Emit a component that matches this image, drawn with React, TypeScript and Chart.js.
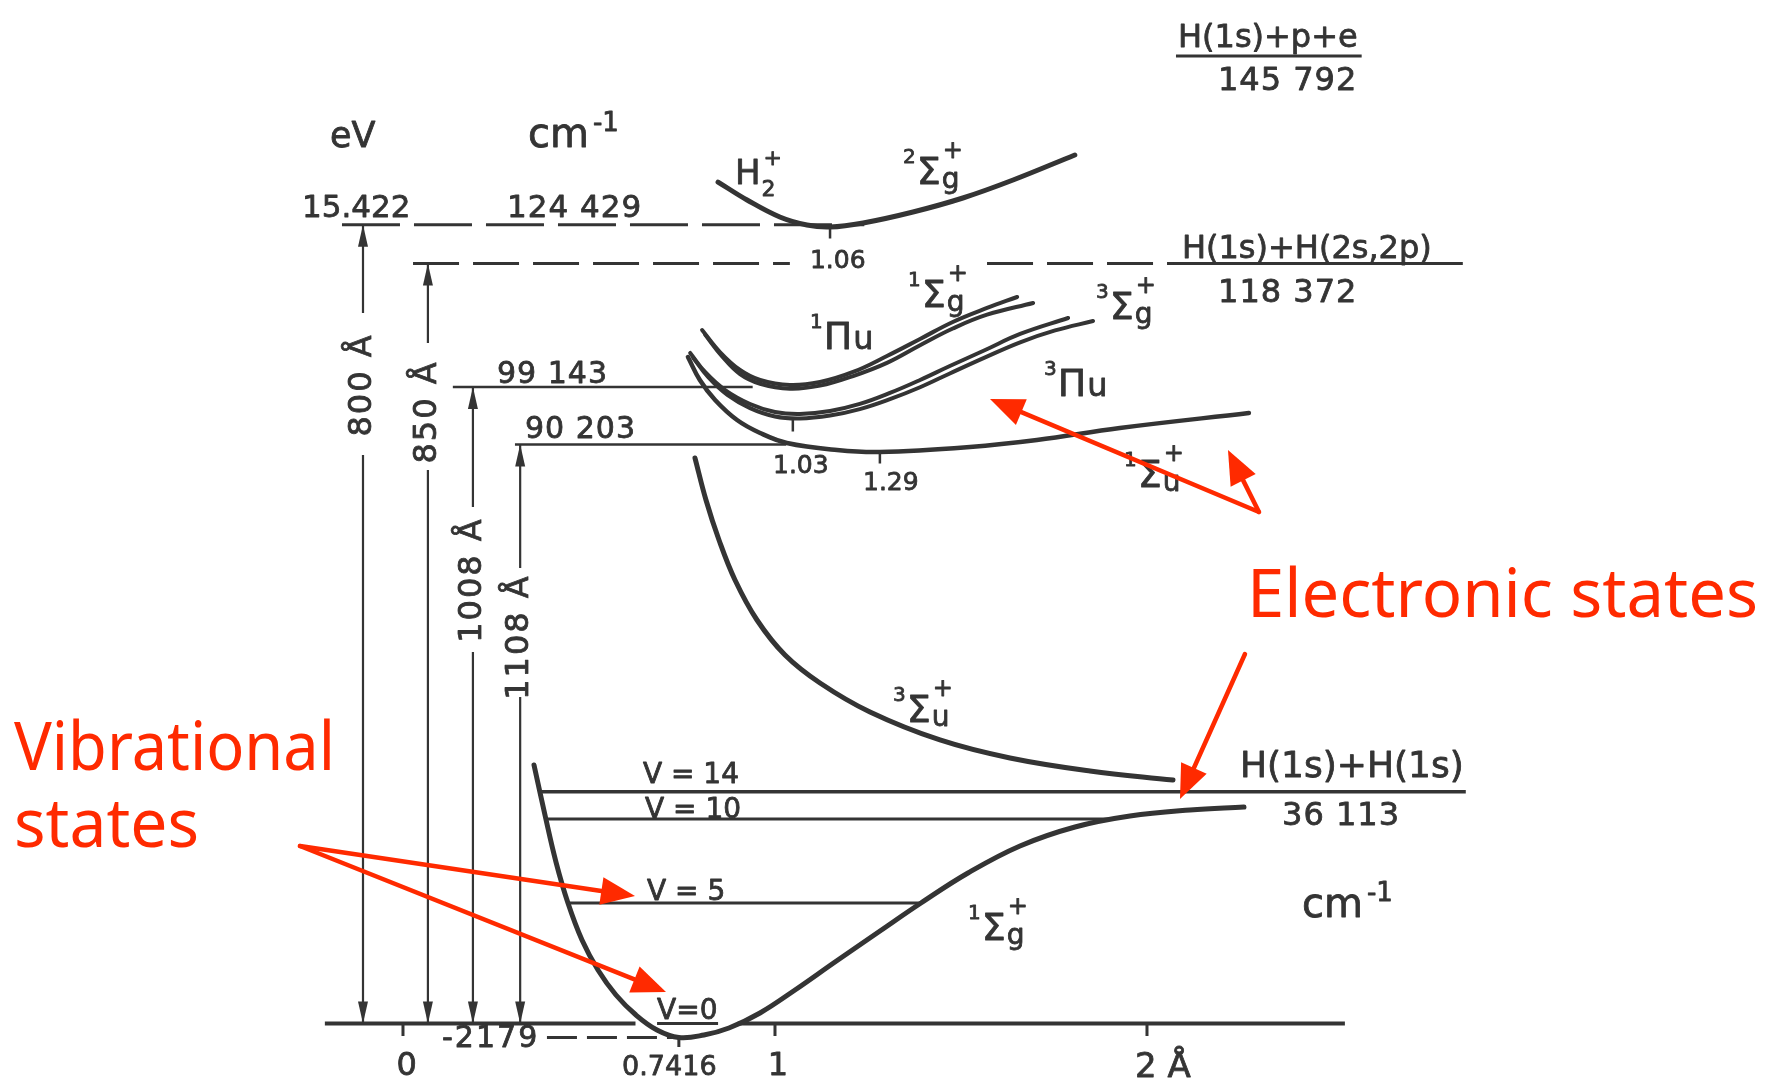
import React, { useEffect, useRef } from 'react';
import { Chart, registerables } from 'chart.js';

Chart.register(...registerables);

// ---------------- data (R in Å, E in cm^-1 above v = 0 of the ground state) ----------------
const X_R = [0.3522, 0.3817, 0.4113, 0.4435, 0.4812, 0.5242, 0.5726, 0.6263, 0.6828, 0.7416, 0.8091, 0.8763, 0.9597, 1.0538, 1.1613, 1.2823, 1.3925, 1.5188, 1.6586, 1.8065, 1.9543, 2.1156, 2.2608];
const X_E = [40260, 32480, 25150, 18770, 13010, 8330, 4440, 1320, -1010, -2179, -1790, -700, 1640, 5220, 9580, 14410, 18770, 23440, 27650, 30610, 32320, 33260, 33720];

const B3SU_R = [0.785, 0.8145, 0.8495, 0.8925, 0.9516, 1.0269, 1.121, 1.2554, 1.4435, 1.6317, 1.8468, 2.0699];
const B3SU_E = [88080, 81540, 75310, 69080, 62850, 57400, 53040, 48520, 44160, 41350, 39330, 37930];

const H2P_R = [0.847, 0.925, 1.013, 1.086, 1.148, 1.237, 1.371, 1.505, 1.640, 1.806];
const H2P_E = [131070, 128270, 125620, 124370, 124060, 124690, 126400, 128580, 131380, 135280];

const B1SU_R = [0.766, 0.798, 0.839, 0.898, 0.960, 1.032, 1.167, 1.282, 1.524, 1.704, 1.927, 2.274];
const B1SU_E = [103810, 100230, 97120, 94000, 91980, 90420, 89330, 89020, 89800, 90890, 92760, 95090];

const C1PU_R = [0.804, 0.852, 0.906, 0.960, 1.040, 1.121, 1.210, 1.301, 1.390, 1.478, 1.570, 1.651];
const C1PU_E = [108020, 104590, 101790, 100230, 99450, 99920, 101480, 103970, 106620, 109270, 111450, 113160];

const EF1SG_R = [0.812, 0.858, 0.906, 0.960, 1.040, 1.121, 1.210, 1.301, 1.390, 1.478, 1.570, 1.694];
const EF1SG_E = [107300, 103900, 101150, 99650, 98880, 99350, 100850, 102900, 105650, 108250, 110400, 112230];

const C3PU_R = [0.772, 0.812, 0.866, 0.933, 1.000, 1.067, 1.148, 1.228, 1.309, 1.390, 1.470, 1.565, 1.659, 1.788];
const C3PU_E = [104440, 101480, 98670, 96500, 95250, 94940, 95400, 96500, 98210, 100230, 102410, 104900, 107400, 109890];

const A3SG_R = [0.780, 0.820, 0.872, 0.933, 1.000, 1.067, 1.148, 1.228, 1.309, 1.390, 1.470, 1.565, 1.659, 1.753, 1.855];
const A3SG_E = [103700, 100700, 97900, 95850, 94550, 94240, 94700, 95700, 97250, 99100, 101250, 103750, 106100, 107950, 109420];

const LEVEL_E = [124429, 118372, 99143, 90203, 36113];
const LEVEL_TEXT = ['124 429', '118 372', '99 143', '90 203', '36 113'];
const EV_TEXT = '15.422';
const MIN_E = -2179;

const VIB_TEXT = ['V = 14', 'V = 10', 'V = 5', 'V=0'];
const VIB_E = [36113, 31850, 18770, 0];
const VIB_R0 = [0.366, 0.385, 0.443, 0.683];
const VIB_R1 = [2.857, 1.906, 1.392, 0.847];

const WAVE_TEXT = ['800 Å', '850 Å', '1008 Å', '1108 Å'];
const WAVE_R = [-0.1075, 0.067, 0.188, 0.315];
const WAVE_TOP = [124429, 118372, 99143, 90203];
const WAVE_GAP_HI = [110670, 105990, 80450, 70950];
const WAVE_GAP_LO = [88550, 86210, 57870, 50860];
const WAVE_LABEL_E = [99450, 95250, 69080, 60200];

const AXIS_TICKS = [0, 0.7416, 1, 2];
const AXIS_TICK_TEXT = ['0', '0.7416', '1', '2 Å'];

const RE_R = [1.148, 1.048, 1.282];
const RE_TEXT = ['1.06', '1.03', '1.29'];
const RE_TOP = [124060, 94000, 89020];

// ---------------- view ----------------
const R_MIN = -1.0833, R_MAX = 3.6882;
const E_MIN = -9112, E_MAX = 159420;

const INK = '#343434';
const RED = '#ff2a00';
const SANS = '"DejaVu Sans", "Liberation Sans", sans-serif';
const HAND = '"Noto Sans", "DejaVu Sans", sans-serif';

const pts = (rs: number[], es: number[]) => rs.map((r, i) => ({ x: r, y: es[i] }));
const hseg = (r0: number, r1: number, e: number) => [{ x: r0, y: e }, { x: r1, y: e }];
const vseg = (r: number, e0: number, e1: number) => [{ x: r, y: e0 }, { x: r, y: e1 }];
const GAP = (r: number) => ({ x: r, y: null as any });

const line = (data: any[], width: number, extra: any = {}) => ({
  data, showLine: true, borderColor: INK, backgroundColor: INK, borderWidth: width,
  pointRadius: 0, pointHoverRadius: 0, fill: false, tension: 0, spanGaps: false, ...extra,
});
const curve = (data: any[], width: number) => line(data, width, { tension: 0.4, borderCapStyle: 'round', borderJoinStyle: 'round' });

function buildDatasets() {
  const ds: any[] = [];
  // baseline (energy zero), broken where the potential dips below it
  ds.push(line([...hseg(-0.21, 0.625, 0), GAP(0.7), ...hseg(0.9, 2.532, 0)], 4));
  // vibrational levels
  VIB_E.forEach((e, i) => ds.push(line(hseg(VIB_R0[i], VIB_R1[i], e), i === 0 ? 3.5 : 3)));
  // ionisation limit (dashed)
  ds.push(line(hseg(-0.164, 1.24, LEVEL_E[0]), 3, { borderDash: [58, 14] }));
  // H(1s)+H(2s,2p) limit
  ds.push(line([...hseg(0.027, 1.04, LEVEL_E[1]), GAP(1.3), ...hseg(1.57, 2.07, LEVEL_E[1])], 3, { borderDash: [46, 14] }));
  ds.push(line(hseg(2.067, 2.849, LEVEL_E[1]), 3));
  // 99143 and 90203 levels
  ds.push(line(hseg(0.134, 0.94, LEVEL_E[2]), 2.5));
  ds.push(line(hseg(0.301, 1.03, LEVEL_E[3]), 2.5));
  // -2179 dashed
  ds.push(line(hseg(0.387, 0.73, MIN_E), 3, { borderDash: [30, 10] }));
  // wavelength arrows
  WAVE_R.forEach((r, i) => ds.push(line([...vseg(r, 0, WAVE_GAP_LO[i]), GAP(r), ...vseg(r, WAVE_GAP_HI[i], WAVE_TOP[i])], 2.2)));
  // axis ticks
  AXIS_TICKS.forEach((r) => {
    const top = Math.abs(r - 0.7416) < 1e-6 ? MIN_E : 0;
    ds.push(line(vseg(r, top, top - (top === 0 ? 1950 : 1480)), 3));
  });
  // equilibrium distance ticks
  RE_R.forEach((r, i) => ds.push(line(vseg(r, RE_TOP[i], RE_TOP[i] - 1800), 2.5)));
  // potential curves
  ds.push(curve(pts(X_R, X_E), 5));
  ds.push(curve(pts(B3SU_R, B3SU_E), 5));
  ds.push(curve(pts(H2P_R, H2P_E), 5));
  ds.push(curve(pts(B1SU_R, B1SU_E), 4.5));
  ds.push(curve(pts(C1PU_R, C1PU_E), 4));
  ds.push(curve(pts(EF1SG_R, EF1SG_E), 4));
  ds.push(curve(pts(C3PU_R, C3PU_E), 4));
  ds.push(curve(pts(A3SG_R, A3SG_E), 4));
  return ds;
}

// annotation placement (data coordinates)
const TERMS = [
  { r: 0.8925, e: 130750, pre: '', main: 'H', sub: '2', sup: '+', mol: true },
  { r: 1.344, e: 130750, pre: '2', main: 'Σ', sub: 'g', sup: '+' },
  { r: 1.3575, e: 111600, pre: '1', main: 'Σ', sub: 'g', sup: '+' },
  { r: 1.863, e: 109730, pre: '3', main: 'Σ', sub: 'g', sup: '+' },
  { r: 1.094, e: 105060, pre: '1', main: 'Π', sub: 'u', sup: '' },
  { r: 1.723, e: 97740, pre: '3', main: 'Π', sub: 'u', sup: '' },
  { r: 1.938, e: 83570, pre: '1', main: 'Σ', sub: 'u', sup: '+' },
  { r: 1.317, e: 46960, pre: '3', main: 'Σ', sub: 'u', sup: '+' },
  { r: 1.519, e: 13010, pre: '1', main: 'Σ', sub: 'g', sup: '+' },
];

const TEXTS: any[] = [
  { t: 'eV', r: -0.196, e: 136450, s: 35 },
  { t: EV_TEXT, r: -0.2715, e: 125620, s: 31 },
  { t: LEVEL_TEXT[0], r: 0.2796, e: 125620, s: 31, ls: 1 },
  { t: LEVEL_TEXT[2], r: 0.2527, e: 99765, s: 30, ls: 1 },
  { t: LEVEL_TEXT[3], r: 0.328, e: 91200, s: 30, ls: 1 },
  { t: RE_TEXT[0], r: 1.094, e: 117680, s: 25 },
  { t: RE_TEXT[1], r: 0.9946, e: 85750, s: 25 },
  { t: RE_TEXT[2], r: 1.2366, e: 83100, s: 25 },
  { t: 'H(1s)+p+e', r: 2.0833, e: 152100, s: 32, ul: true },
  { t: '145 792', r: 2.1909, e: 145400, s: 32, ls: 1 },
  { t: 'H(1s)+H(2s,2p)', r: 2.094, e: 119300, s: 32 },
  { t: LEVEL_TEXT[1], r: 2.191, e: 112370, s: 32, ls: 1 },
  { t: 'H(1s)+H(1s)', r: 2.25, e: 38400, s: 36 },
  { t: LEVEL_TEXT[4], r: 2.363, e: 30920, s: 32, ls: 1 },
  { t: VIB_TEXT[0], r: 0.645, e: 37460, s: 28 },
  { t: VIB_TEXT[1], r: 0.6505, e: 32010, s: 28 },
  { t: VIB_TEXT[2], r: 0.656, e: 19240, s: 28 },
  { t: VIB_TEXT[3], r: 0.683, e: 700, s: 28 },
  { t: '-' + String(-MIN_E), r: 0.105, e: -3660, s: 30, ls: 2 },
  { t: AXIS_TICK_TEXT[0], r: AXIS_TICKS[0] + 0.01, e: -8020, s: 32, c: true },
  { t: AXIS_TICK_TEXT[1], r: 0.716, e: -8020, s: 27, c: true },
  { t: AXIS_TICK_TEXT[2], r: AXIS_TICKS[2] + 0.008, e: -8020, s: 32, c: true },
  { t: AXIS_TICK_TEXT[3], r: 1.968, e: -8330, s: 34 },
];

const CM_UNITS = [
  { r: 0.336, e: 136450 },
  { r: 2.4167, e: 16590 },
];

const HAND_TEXT = [
  { t: 'Vibrational', r: -1.0457, e: 39485, w: 321 },
  { t: 'states', r: -1.0457, e: 27492, w: 185 },
  { t: 'Electronic states', r: 2.2688, e: 63317, w: 511 },
];

const RED_ARROWS = [
  [-0.2769, 27648, 0.6237, 19860],
  [-0.2769, 27648, 0.707, 4906],
  [2.2634, 57554, 2.0887, 34968],
  [2.301, 79671, 1.578, 97276],
  [2.301, 79671, 2.2177, 89335],
];

// text drawn with a hairline outline to mimic the heavy lettering of the original
function ink(ctx: CanvasRenderingContext2D, s: string, x: number, y: number) {
  ctx.fillText(s, x, y);
  ctx.strokeText(s, x, y);
}

function drawTerm(ctx: CanvasRenderingContext2D, x: number, y: number, t: any) {
  const S = t.mol ? 34 : 38;
  let cx = x;
  if (t.pre) {
    ctx.font = `20px ${SANS}`;
    ink(ctx, t.pre, cx, y - 21);
    cx += ctx.measureText(t.pre).width + 1;
  }
  ctx.font = `${S}px ${SANS}`;
  ink(ctx, t.main, cx, y);
  cx += ctx.measureText(t.main).width + 1;
  if (t.mol) {
    ctx.font = `22px ${SANS}`;
    ink(ctx, t.sub, cx, y + 12);
    ink(ctx, t.sup, cx + 2, y - 19);
    return;
  }
  if (t.main === 'Π') {
    ctx.font = `${Math.round(S * 0.85)}px ${SANS}`;
    ink(ctx, t.sub, cx, y);
    return;
  }
  ctx.font = `28px ${SANS}`;
  ink(ctx, t.sub, cx, y + 4);
  ctx.font = `24px ${SANS}`;
  ink(ctx, t.sup, cx + 1, y - 26);
}

const annotate = {
  id: 'annotate',
  afterDatasetsDraw(chart: any) {
    const ctx: CanvasRenderingContext2D = chart.ctx;
    const X = (r: number) => chart.scales.x.getPixelForValue(r);
    const Y = (e: number) => chart.scales.y.getPixelForValue(e);
    ctx.save();
    ctx.fillStyle = INK;
    ctx.strokeStyle = INK;
    ctx.lineJoin = 'round';
    ctx.textBaseline = 'alphabetic';

    // arrowheads on the wavelength arrows
    WAVE_R.forEach((r, i) => {
      const x = X(r);
      const yt = Y(WAVE_TOP[i]);
      const yb = Y(0);
      ctx.beginPath(); ctx.moveTo(x, yt); ctx.lineTo(x - 5, yt + 22); ctx.lineTo(x + 5, yt + 22); ctx.closePath(); ctx.fill();
      ctx.beginPath(); ctx.moveTo(x, yb); ctx.lineTo(x - 5, yb - 22); ctx.lineTo(x + 5, yb - 22); ctx.closePath(); ctx.fill();
      ctx.save();
      ctx.translate(x, Y(WAVE_LABEL_E[i]));
      ctx.rotate(-Math.PI / 2);
      ctx.font = `32px ${SANS}`;
      ctx.lineWidth = 0.8;
      (ctx as any).letterSpacing = '2px';
      ctx.textAlign = 'center';
      ctx.textBaseline = 'middle';
      ink(ctx, WAVE_TEXT[i], 0, 0);
      ctx.restore();
    });

    // plain texts
    TEXTS.forEach((o) => {
      ctx.font = `${o.s}px ${SANS}`;
      (ctx as any).letterSpacing = `${o.ls || 0}px`;
      ctx.textAlign = o.c ? 'center' : 'left';
      const x = X(o.r), y = Y(o.e);
      ctx.lineWidth = 0.8;
      ink(ctx, o.t, x, y);
      if (o.ul) {
        const w = ctx.measureText(o.t).width;
        ctx.lineWidth = 3;
        ctx.beginPath(); ctx.moveTo(x - 2, y + 9); ctx.lineTo(x + w + 4, y + 9); ctx.stroke();
      }
    });
    (ctx as any).letterSpacing = '0px';
    ctx.textAlign = 'left';
    ctx.lineWidth = 0.8;

    // cm^-1 units
    CM_UNITS.forEach((u) => {
      const x = X(u.r), y = Y(u.e);
      ctx.font = `40px ${SANS}`;
      ink(ctx, 'cm', x, y);
      const w = ctx.measureText('cm').width;
      ctx.font = `26px ${SANS}`;
      ink(ctx, '-1', x + w + 4, y - 16);
    });

    // term symbols
    TERMS.forEach((t) => drawTerm(ctx, X(t.r), Y(t.e), t));

    // red annotations
    ctx.fillStyle = RED;
    ctx.strokeStyle = RED;
    ctx.lineWidth = 4.5;
    ctx.lineCap = 'round';
    RED_ARROWS.forEach(([r0, e0, r1, e1]) => {
      const x0 = X(r0), y0 = Y(e0), x1 = X(r1), y1 = Y(e1);
      const a = Math.atan2(y1 - y0, x1 - x0);
      const L = 34, W = 14;
      const bx = x1 - L * Math.cos(a), by = y1 - L * Math.sin(a);
      ctx.beginPath(); ctx.moveTo(x0, y0); ctx.lineTo(bx, by); ctx.stroke();
      ctx.beginPath();
      ctx.moveTo(x1, y1);
      ctx.lineTo(bx + W * Math.sin(a), by - W * Math.cos(a));
      ctx.lineTo(bx - W * Math.sin(a), by + W * Math.cos(a));
      ctx.closePath(); ctx.fill();
    });
    HAND_TEXT.forEach((h) => {
      ctx.font = `67px ${HAND}`;
      const w = ctx.measureText(h.t).width;
      ctx.save();
      ctx.translate(X(h.r), Y(h.e));
      ctx.scale(h.w / w, 1);
      ctx.fillText(h.t, 0, 0);
      ctx.restore();
    });
    ctx.restore();
  },
};

export default function App() {
  const ref = useRef<HTMLCanvasElement>(null);
  useEffect(() => {
    const canvas = ref.current;
    if (!canvas) return;
    const chart = new Chart(canvas, {
      type: 'scatter',
      data: { datasets: buildDatasets() },
      options: {
        responsive: false,
        animation: false,
        devicePixelRatio: 1,
        events: [],
        layout: { padding: 0 },
        scales: {
          x: { type: 'linear', min: R_MIN, max: R_MAX, display: false },
          y: { type: 'linear', min: E_MIN, max: E_MAX, display: false },
        },
        plugins: { legend: { display: false }, tooltip: { enabled: false } },
      } as any,
      plugins: [annotate],
    });
    return () => chart.destroy();
  }, []);
  return (
    <div style={{ position: 'fixed', left: 0, top: 0, width: 1775, height: 1082, background: '#fff', overflow: 'hidden' }}>
      <canvas ref={ref} width={1775} height={1082} style={{ display: 'block' }} />
    </div>
  );
}
